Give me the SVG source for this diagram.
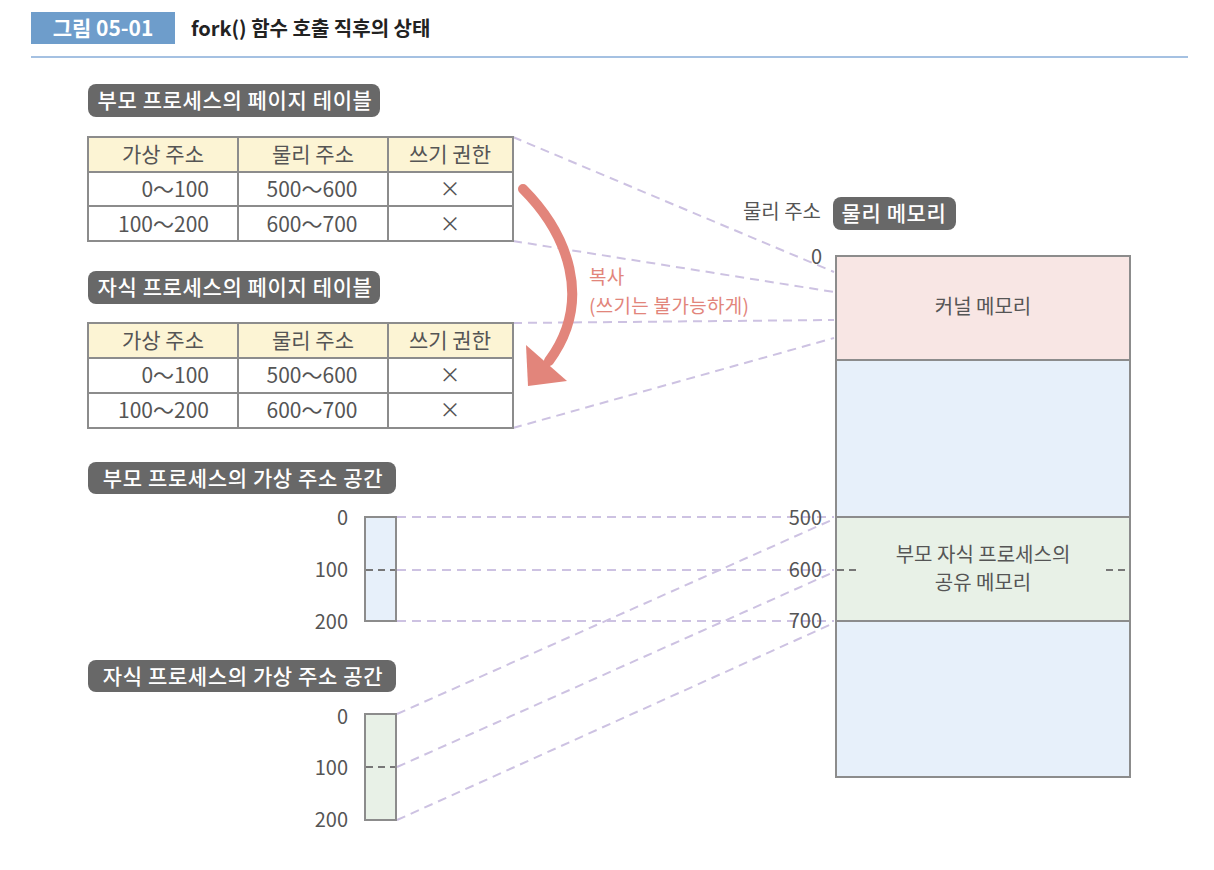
<svg xmlns="http://www.w3.org/2000/svg" width="1214" height="870" viewBox="0 0 1214 870">
<style>
text{font-family:"Noto Sans CJK KR","Noto Sans",sans-serif;fill:#555;font-size:20px}
.pill{fill:#686868}
.pt{fill:#fff;font-size:21px;font-weight:500;letter-spacing:0.6px}
.tb{font-size:21px}
.cell{fill:#fff;stroke:#8c8c8c;stroke-width:2}
.hd{fill:#fcf4d4;stroke:#8c8c8c;stroke-width:2}
.c{text-anchor:middle}
.r{text-anchor:end}
.dl{stroke:#cdc2e2;stroke-width:2;stroke-dasharray:9 6;fill:none}
.ib{stroke:#777;stroke-width:2;stroke-dasharray:7 5;fill:none}
.box{stroke:#8c8c8c;stroke-width:2}
.red{fill:#e2857b}
.rt{fill:#e2857b;font-size:19px;letter-spacing:0.3px}
</style>
<g id="title">
<rect x="31" y="12" width="144" height="32" fill="#6e9dcb"/>
<text x="103" y="36" class="c" style="fill:#fff;font-weight:700;font-size:21px">그림 05-01</text>
<text x="191" y="36" style="fill:#222;font-weight:700;font-size:20px">fork() 함수 호출 직후의 상태</text>
<line x1="31" y1="57" x2="1188" y2="57" stroke="#a5c1e2" stroke-width="2"/>
</g>
<g id="connectors">
<line class="dl" x1="513" y1="137" x2="834" y2="272"/>
<line class="dl" x1="513" y1="241" x2="834" y2="292"/>
<line class="dl" x1="513" y1="323" x2="834" y2="320"/>
<line class="dl" x1="513" y1="428" x2="834" y2="338"/>
<line class="dl" x1="397" y1="517" x2="834" y2="517"/>
<line class="dl" x1="397" y1="570" x2="834" y2="570"/>
<line class="dl" x1="397" y1="621" x2="834" y2="621"/>
<line class="dl" x1="397" y1="714" x2="834" y2="519"/>
<line class="dl" x1="397" y1="767" x2="834" y2="572"/>
<line class="dl" x1="397" y1="820" x2="834" y2="623"/>
</g>
<g id="parent-table">
<rect class="pill" x="88" y="84" width="292" height="33" rx="8"/>
<text class="pt c" x="235" y="108">부모 프로세스의 페이지 테이블</text>
<rect class="hd" x="88" y="137" width="150" height="35"/>
<rect class="hd" x="238" y="137" width="150" height="35"/>
<rect class="hd" x="388" y="137" width="125" height="35"/>
<rect class="cell" x="88" y="172" width="150" height="34"/>
<rect class="cell" x="238" y="172" width="150" height="34"/>
<rect class="cell" x="388" y="172" width="125" height="34"/>
<rect class="cell" x="88" y="206" width="150" height="35"/>
<rect class="cell" x="238" y="206" width="150" height="35"/>
<rect class="cell" x="388" y="206" width="125" height="35"/>
<text class="tb c" x="163" y="162">가상 주소</text>
<text class="tb c" x="313" y="162">물리 주소</text>
<text class="tb c" x="450" y="162">쓰기 권한</text>
<text class="tb r" x="209" y="197">0～100</text>
<text class="tb c" x="312" y="197">500～600</text>
<text class="tb c" x="450" y="196">×</text>
<text class="tb r" x="209" y="232">100～200</text>
<text class="tb c" x="312" y="232">600～700</text>
<text class="tb c" x="450" y="231">×</text>
</g>
<g id="child-table">
<rect class="pill" x="88" y="271" width="292" height="33" rx="8"/>
<text class="pt c" x="235" y="295">자식 프로세스의 페이지 테이블</text>
<rect class="hd" x="88" y="323" width="150" height="35"/>
<rect class="hd" x="238" y="323" width="150" height="35"/>
<rect class="hd" x="388" y="323" width="125" height="35"/>
<rect class="cell" x="88" y="358" width="150" height="35"/>
<rect class="cell" x="238" y="358" width="150" height="35"/>
<rect class="cell" x="388" y="358" width="125" height="35"/>
<rect class="cell" x="88" y="393" width="150" height="35"/>
<rect class="cell" x="238" y="393" width="150" height="35"/>
<rect class="cell" x="388" y="393" width="125" height="35"/>
<text class="tb c" x="163" y="348">가상 주소</text>
<text class="tb c" x="313" y="348">물리 주소</text>
<text class="tb c" x="450" y="348">쓰기 권한</text>
<text class="tb r" x="209" y="383">0～100</text>
<text class="tb c" x="312" y="383">500～600</text>
<text class="tb c" x="450" y="382">×</text>
<text class="tb r" x="209" y="418">100～200</text>
<text class="tb c" x="312" y="418">600～700</text>
<text class="tb c" x="450" y="417">×</text>
</g>
<g id="copy-arrow">
<path d="M523,189 C567,233 594,300 549,361" fill="none" stroke="#e2857b" stroke-width="10" stroke-linecap="round"/>
<polygon class="red" points="526,345 567,381 528,386"/>
<text class="rt" x="589" y="284">복사</text>
<text class="rt" x="589" y="313">(쓰기는 불가능하게)</text>
</g>
<g id="physical-memory">
<text class="r" x="821" y="219">물리 주소</text>
<rect class="pill" x="833" y="197" width="123" height="33" rx="8"/>
<text class="pt c" x="894" y="221">물리 메모리</text>
<text class="r" x="822" y="264">0</text>
<rect class="box" x="836" y="256" width="294" height="104" fill="#f8e6e4"/>
<rect class="box" x="836" y="360" width="294" height="157" fill="#e7f0fa"/>
<rect class="box" x="836" y="517" width="294" height="104" fill="#e8f1e7"/>
<rect class="box" x="836" y="621" width="294" height="156" fill="#e7f0fa"/>
<line class="ib" x1="837" y1="570" x2="858" y2="570"/>
<line class="ib" x1="1106" y1="570" x2="1129" y2="570"/>
<text class="c" x="983" y="314">커널 메모리</text>
<text class="c" x="983" y="562">부모 자식 프로세스의</text>
<text class="c" x="983" y="590">공유 메모리</text>
<text class="r" x="822" y="525">500</text>
<text class="r" x="822" y="577">600</text>
<text class="r" x="822" y="628">700</text>
</g>
<g id="parent-vas">
<rect class="pill" x="88" y="462" width="308" height="32" rx="8"/>
<text class="pt c" x="243" y="486">부모 프로세스의 가상 주소 공간</text>
<rect class="box" x="365" y="517" width="31" height="104" fill="#e7f0fa"/>
<line class="ib" x1="366" y1="570" x2="395" y2="570"/>
<text class="r" x="348" y="525">0</text>
<text class="r" x="348" y="577">100</text>
<text class="r" x="348" y="629">200</text>
</g>
<g id="child-vas">
<rect class="pill" x="88" y="660" width="308" height="32" rx="8"/>
<text class="pt c" x="243" y="684">자식 프로세스의 가상 주소 공간</text>
<rect class="box" x="365" y="714" width="31" height="106" fill="#e8f1e7"/>
<line class="ib" x1="366" y1="767" x2="395" y2="767"/>
<text class="r" x="348" y="724">0</text>
<text class="r" x="348" y="775">100</text>
<text class="r" x="348" y="827">200</text>
</g>
</svg>
